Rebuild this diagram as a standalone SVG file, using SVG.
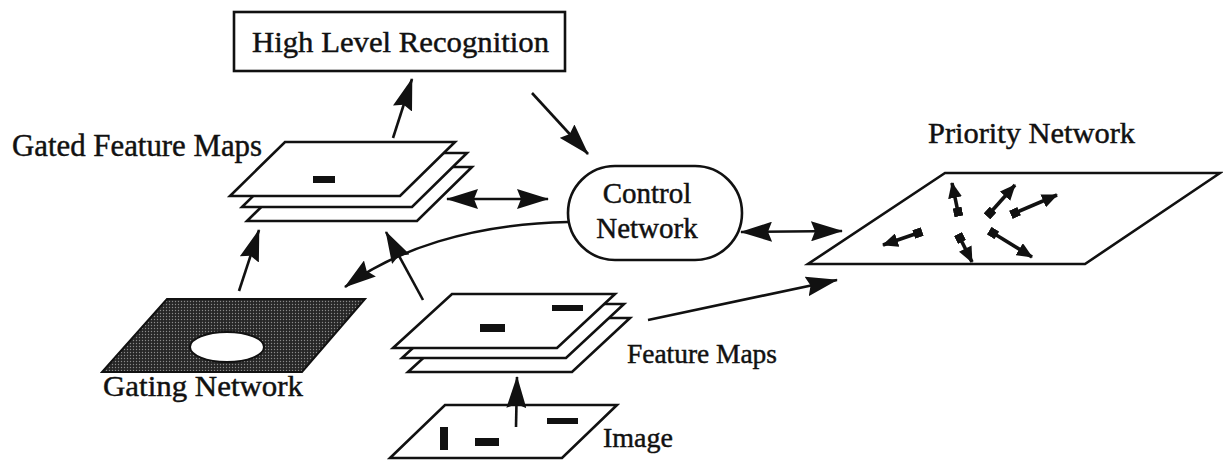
<svg xmlns="http://www.w3.org/2000/svg" width="1223" height="462" viewBox="0 0 1223 462">
<style>
.t{font-family:"Liberation Serif","Times New Roman",serif;fill:#111;stroke:#111;stroke-width:0.45}
.sh{fill:#fff;stroke:#111;stroke-width:2.6;stroke-linejoin:miter}
.ln{fill:none;stroke:#111;stroke-width:2.6}
.sm{fill:none;stroke:#111;stroke-width:3.6}
.dash{fill:#111}
</style>
<defs>
<marker id="ah" markerUnits="userSpaceOnUse" viewBox="0 0 32 20" refX="31" refY="10" markerWidth="32" markerHeight="20" orient="auto-start-reverse">
<path d="M0,0 L32,10 L0,20 L4,10 z" fill="#111"/>
</marker>
<marker id="sa" markerUnits="userSpaceOnUse" viewBox="0 0 16 14" refX="15" refY="7" markerWidth="16" markerHeight="14" orient="auto">
<path d="M0,0 L16,7 L0,14 z" fill="#111"/>
</marker>
<marker id="sq" markerUnits="userSpaceOnUse" viewBox="0 0 9 9" refX="4.5" refY="4.5" markerWidth="9" markerHeight="9" orient="auto">
<rect x="0" y="0" width="9" height="9" fill="#111"/>
</marker>
<pattern id="hatch" patternUnits="userSpaceOnUse" width="3" height="3">
<rect width="3" height="3" fill="#262626"/>
<circle cx="1.5" cy="1.5" r="0.7" fill="#8a8a8a"/>
</pattern>
</defs>

<g id="high-level-recognition">
<rect class="sh" x="234" y="12" width="331" height="59"/>
<text class="t" x="252" y="52" font-size="30" textLength="297" lengthAdjust="spacingAndGlyphs">High Level Recognition</text>
</g>

<g id="gated-feature-maps">
<text class="t" x="12" y="156" font-size="31" textLength="250" lengthAdjust="spacingAndGlyphs">Gated Feature Maps</text>
<polygon class="sh" points="302,167 472,167 417,221 247,221"/>
<polygon class="sh" points="297,153 467,153 412,207 242,207"/>
<polygon class="sh" points="285,142 455,142 400,196 230,196"/>
<rect class="dash" x="313" y="176" width="22" height="7"/>
</g>

<g id="control-network">
<rect class="sh" x="568" y="166" width="174" height="94" rx="47" ry="47"/>
<text class="t" x="647" y="203" font-size="29" text-anchor="middle">Control</text>
<text class="t" x="647" y="238" font-size="29" text-anchor="middle">Network</text>
</g>

<g id="priority-network">
<text class="t" x="928" y="143" font-size="29" textLength="207" lengthAdjust="spacingAndGlyphs">Priority Network</text>
<polygon class="sh" points="945,173 1220,173 1085,264 808,264" stroke-width="3"/>
<line class="sm" x1="958" y1="212" x2="952" y2="183" marker-start="url(#sq)" marker-end="url(#sa)"/>
<line class="sm" x1="990" y1="213" x2="1015" y2="185" marker-start="url(#sq)" marker-end="url(#sa)"/>
<line class="sm" x1="1015" y1="213" x2="1057" y2="195" marker-start="url(#sq)" marker-end="url(#sa)"/>
<line class="sm" x1="918" y1="233" x2="883" y2="245" marker-start="url(#sq)" marker-end="url(#sa)"/>
<line class="sm" x1="960" y1="238" x2="972" y2="262" marker-start="url(#sq)" marker-end="url(#sa)"/>
<line class="sm" x1="993" y1="233" x2="1032" y2="257" marker-start="url(#sq)" marker-end="url(#sa)"/>
</g>

<g id="gating-network">
<polygon points="167,299 365,299 302,372 102,372" fill="url(#hatch)" stroke="#111" stroke-width="2"/>
<ellipse cx="227" cy="347" rx="37" ry="15" fill="#fff" stroke="#111" stroke-width="2"/>
<text class="t" x="103" y="396" font-size="30" textLength="200" lengthAdjust="spacingAndGlyphs">Gating Network</text>
</g>

<g id="feature-maps">
<polygon class="sh" points="467,318 630,318 572,372 408,372"/>
<polygon class="sh" points="461,304 624,304 566,358 402,358"/>
<polygon class="sh" points="452,294 615,294 557,348 393,348"/>
<rect class="dash" x="480" y="324" width="25" height="8"/>
<rect class="dash" x="552" y="305" width="31" height="6"/>
<text class="t" x="627" y="363" font-size="27" textLength="150" lengthAdjust="spacingAndGlyphs">Feature Maps</text>
</g>

<g id="image">
<polygon class="sh" points="445,405 617,405 562,458 390,458"/>
<rect class="dash" x="440" y="427" width="8" height="23"/>
<rect class="dash" x="475" y="438" width="24" height="8"/>
<rect class="dash" x="547" y="418" width="31" height="6"/>
<text class="t" x="603" y="447" font-size="28" textLength="70" lengthAdjust="spacingAndGlyphs">Image</text>
</g>

<g id="connectors">
<line class="ln" x1="393" y1="138" x2="412" y2="79" marker-end="url(#ah)"/>
<line class="ln" x1="532" y1="93" x2="588" y2="154" marker-end="url(#ah)"/>
<line class="ln" x1="447" y1="199" x2="548" y2="199" marker-start="url(#ah)" marker-end="url(#ah)"/>
<line class="ln" x1="741" y1="232" x2="842" y2="231" marker-start="url(#ah)" marker-end="url(#ah)"/>
<path class="ln" d="M568,222 C470,224 395,250 345,287" marker-end="url(#ah)"/>
<line class="ln" x1="423" y1="300" x2="386" y2="232" marker-end="url(#ah)"/>
<line class="ln" x1="239" y1="291" x2="259" y2="230" marker-end="url(#ah)"/>
<line class="ln" x1="516" y1="427" x2="517" y2="377" marker-end="url(#ah)"/>
<line class="ln" x1="648" y1="320" x2="837" y2="280" marker-end="url(#ah)"/>
</g>
</svg>
